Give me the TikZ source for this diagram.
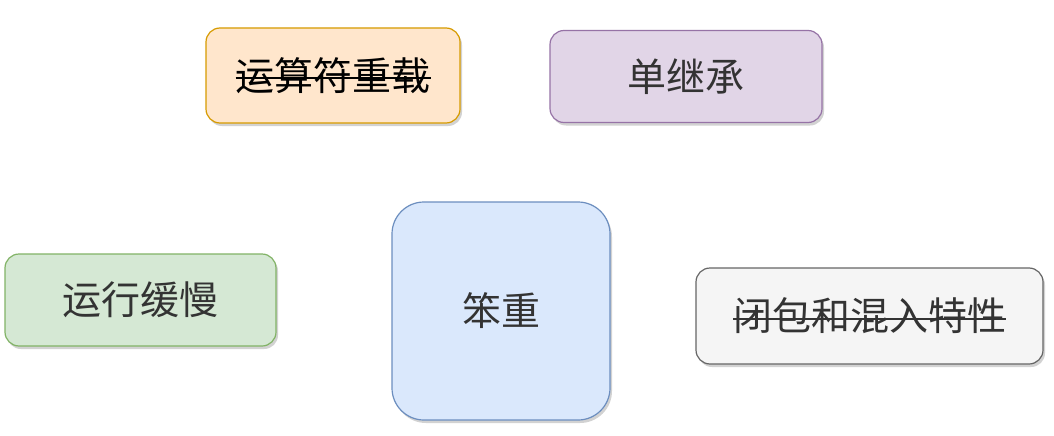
\documentclass[tikz,border=0pt]{standalone}
\usepackage{fontspec}
\newfontfamily\cjk{Noto Sans CJK SC}
\usetikzlibrary{shadows}
\definecolor{orfill}{HTML}{FFE6CC}\definecolor{ordraw}{HTML}{D79B00}
\definecolor{pufill}{HTML}{E1D5E7}\definecolor{pudraw}{HTML}{9673A6}
\definecolor{grfill}{HTML}{D5E8D4}\definecolor{grdraw}{HTML}{82B366}
\definecolor{blfill}{HTML}{DAE8FC}\definecolor{bldraw}{HTML}{6C8EBF}
\definecolor{gyfill}{HTML}{F5F5F5}\definecolor{gydraw}{HTML}{666666}
\definecolor{txtgray}{HTML}{333333}
\newcommand\strk[2]{\makebox[0pt][l]{\rule[0.28em]{#1em}{2.2pt}}#2}
\tikzset{
  box/.style={draw, line width=1.2pt, rounded corners=14pt,
    drop shadow={shadow xshift=2pt, shadow yshift=-3pt, opacity=0.25, fill=black!70},
    font=\cjk\fontsize{39}{40}\selectfont, text=txtgray, inner sep=0pt}
}
\begin{document}
\begin{tikzpicture}[x=1pt,y=-1pt]
\useasboundingbox[fill=white] (0,0) rectangle (1054,436);
\node[box, fill=orfill, draw=ordraw, text=black, minimum width=254pt, minimum height=95pt] (op) at (333,75.5) {\strk{5}{运算符重载}};
\node[box, fill=pufill, draw=pudraw, minimum width=272pt, minimum height=92pt] (si) at (686,76.5) {单继承};
\node[box, fill=grfill, draw=grdraw, minimum width=271pt, minimum height=92pt] (sl) at (140.5,300) {运行缓慢};
\node[box, fill=blfill, draw=bldraw, rounded corners=32pt, minimum width=218pt, minimum height=218pt] (hv) at (501,311) {笨重};
\node[box, fill=gyfill, draw=gydraw, minimum width=347pt, minimum height=96pt] (cl) at (869.5,316) {\strk{7}{闭包和混入特性}};
\end{tikzpicture}
\end{document}
